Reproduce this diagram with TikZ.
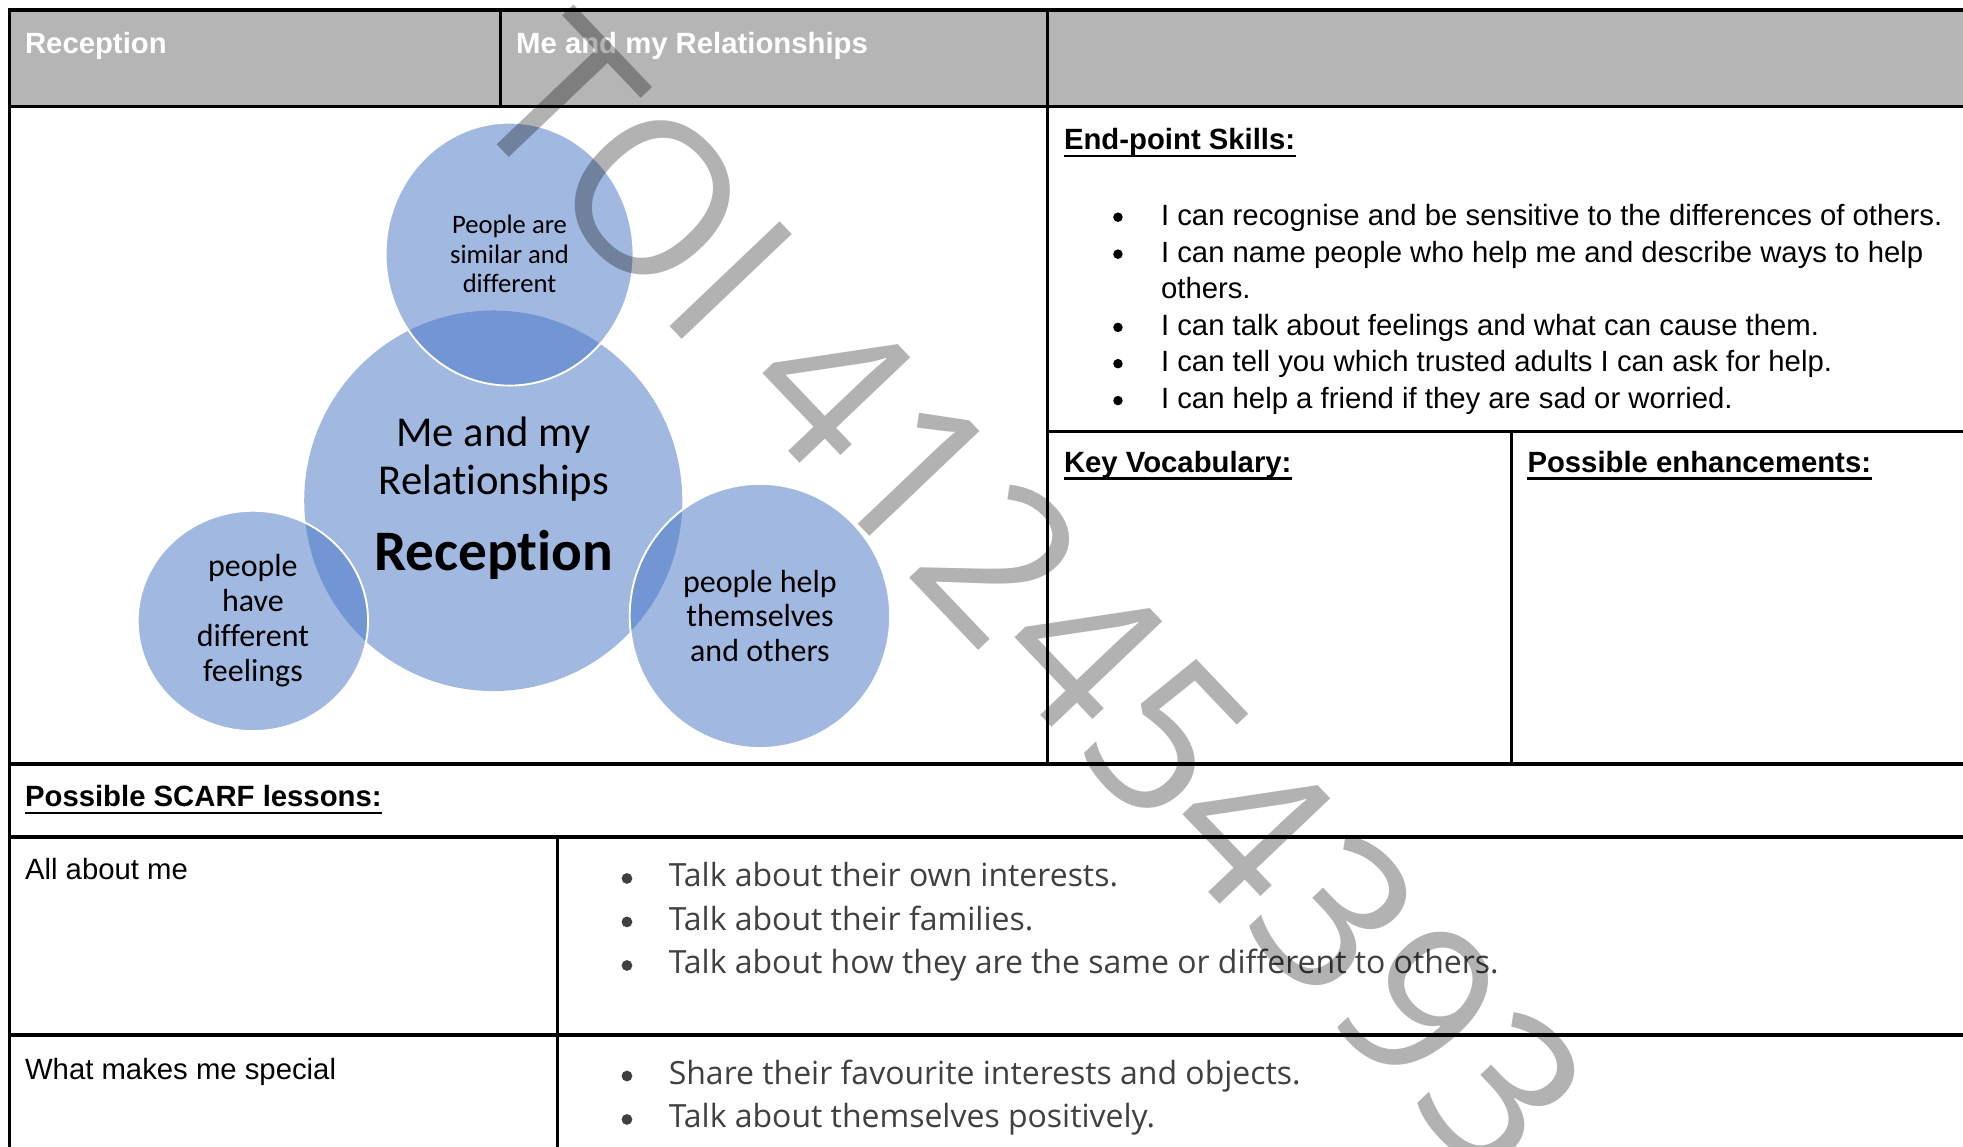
\documentclass[tikz,border=0pt]{standalone}
\usepackage{fontspec}
\setmainfont{Liberation Sans}
\newfontfamily\calibrifont[Ligatures=NoCommon]{Carlito}
\newfontfamily\opensansfont{Open Sans}
\usetikzlibrary{shapes.geometric}
\usetikzlibrary{calc}

\definecolor{headgray}{RGB}{181,181,181}
\definecolor{bubbleblue}{RGB}{68,114,196}
\definecolor{lessongray}{RGB}{64,64,64}
\newcommand{\unitpx}{0.47pt}

\begin{document}
\begin{tikzpicture}[x=\unitpx, y=-\unitpx,
	rule/.style={line width=1.2pt},
	thinrule/.style={line width=0.95pt},
	uline/.style={line width=0.8pt},
	headtext/.style={anchor=base west, inner sep=0pt, text=white, font=\fontsize{11}{13}\selectfont\bfseries},
	celltitle/.style={anchor=base west, inner sep=0pt, font=\fontsize{11}{13}\selectfont\bfseries},
	celltext/.style={anchor=base west, inner sep=0pt, font=\fontsize{11}{13}\selectfont},
	lessontext/.style={anchor=base west, inner sep=0pt, text=lessongray, font=\opensansfont\fontsize{12}{16}\selectfont},
	bubble/.style={ellipse, fill=bubbleblue, fill opacity=0.5, text opacity=1, draw=white, line width=0.7pt, align=center, inner sep=0pt, font=\calibrifont\fontsize{12}{13.1}\selectfont},
	coretext/.style={anchor=base, inner sep=0pt, font=\calibrifont\fontsize{16}{19}\selectfont},
	watermark/.style={rotate=-46.4, inner sep=0pt, text=black, text opacity=0.3, font=\opensansfont\fontsize{80}{96}\selectfont}
]
	\useasboundingbox (0,0) rectangle (1568,916);

	% header band
	\fill[headgray] (7.5,8) rectangle (1568,85.2);
	\node[headtext] (yearHead) at (19.6,42.6) {Reception};
	\node[headtext] (unitHead) at (411.9,42.6) {Me and my Relationships};

	% table rules
	\draw[rule] (1568,8) -- (7.5,8) -- (7.5,916);
	\foreach \y in {85.2,610.3,668.6,826.7} {
		\draw[rule] (7.5,\y) -- (1568,\y);
	}
	\draw[rule] (836.5,344.8) -- (1568,344.8);
	\draw[rule] (399.5,8) -- (399.5,85.2);
	\draw[rule] (836.5,8) -- (836.5,610.3);
	\draw[thinrule] (1207.5,344.8) -- (1207.5,610.3);
	\draw[rule] (445,668.6) -- (445,916);

	% the circles
	\node[bubble, draw=none, minimum width=302*\unitpx, minimum height=304*\unitpx] (core) at (394,400) {};
	\node[bubble, minimum width=198*\unitpx, minimum height=210*\unitpx, font=\calibrifont\fontsize{10}{11}\selectfont] (similar) at (407,203) {People are\\similar and\\different};
	\node[bubble, minimum width=184*\unitpx, minimum height=176*\unitpx] (feelings) at (202,496) {people\\have\\different\\feelings};
	\node[bubble, minimum width=208*\unitpx, minimum height=211*\unitpx] (helpers) at (607,492) {people help\\themselves\\and others};
	\node[coretext] (coreTop) at (394.5,357) {Me and my};
	\node[coretext] (coreMid) at (394.5,395) {Relationships};
	\node[coretext, font=\calibrifont\fontsize{21.5}{25}\selectfont\bfseries] (coreYear) at (394.5,456) {Reception};

	% end-point skills
	\node[celltitle] (endpoint) at (849.5,119.8) {End-point Skills:};
	\node[celltext] (skillA) at (927,180) {I can recognise and be sensitive to the differences of others.};
	\node[celltext] (skillB) at (927,209.5) {I can name people who help me and describe ways to help};
	\node[celltext] (skillBb) at (927,238.5) {others.};
	\node[celltext] (skillC) at (927,268) {I can talk about feelings and what can cause them.};
	\node[celltext] (skillD) at (927,297) {I can tell you which trusted adults I can ask for help.};
	\node[celltext] (skillE) at (927,326.5) {I can help a friend if they are sad or worried.};
	\foreach \n in {skillA,skillB,skillC,skillD,skillE} {
		\fill ($(\n.base west)+(-34,-6.5)$) circle [radius=3.8];
	}

	% vocabulary and enhancements
	\node[celltitle] (vocab) at (849.5,377.5) {Key Vocabulary:};
	\node[celltitle] (enhance) at (1219.7,377.5) {Possible enhancements:};

	% lessons
	\node[celltitle] (scarf) at (19.6,644.5) {Possible SCARF lessons:};
	\node[celltext] (lessonOne) at (19.6,702.5) {All about me};
	\node[celltext] (lessonTwo) at (19.6,862) {What makes me special};
	\node[lessontext] (aimA) at (533.8,708.5) {Talk about their own interests.};
	\node[lessontext] (aimB) at (533.8,743.2) {Talk about their families.};
	\node[lessontext] (aimC) at (533.8,778) {Talk about how they are the same or different to others.};
	\node[lessontext] (aimD) at (533.8,866.3) {Share their favourite interests and objects.};
	\node[lessontext] (aimE) at (533.8,901) {Talk about themselves positively.};
	\foreach \n in {aimA,aimB,aimC,aimD,aimE} {
		\fill[lessongray] ($(\n.base west)+(-33,-6.8)$) circle [radius=4.3];
	}

	% underlined titles
	\foreach \n in {endpoint,vocab,enhance,scarf} {
		\draw[uline] ([yshift=-2.2pt]\n.base west) -- ([yshift=-2.2pt]\n.base east);
	}

	% watermark
	\node[watermark] (stamp) at (824,476) {TOI 412454393};
\end{tikzpicture}
\end{document}
